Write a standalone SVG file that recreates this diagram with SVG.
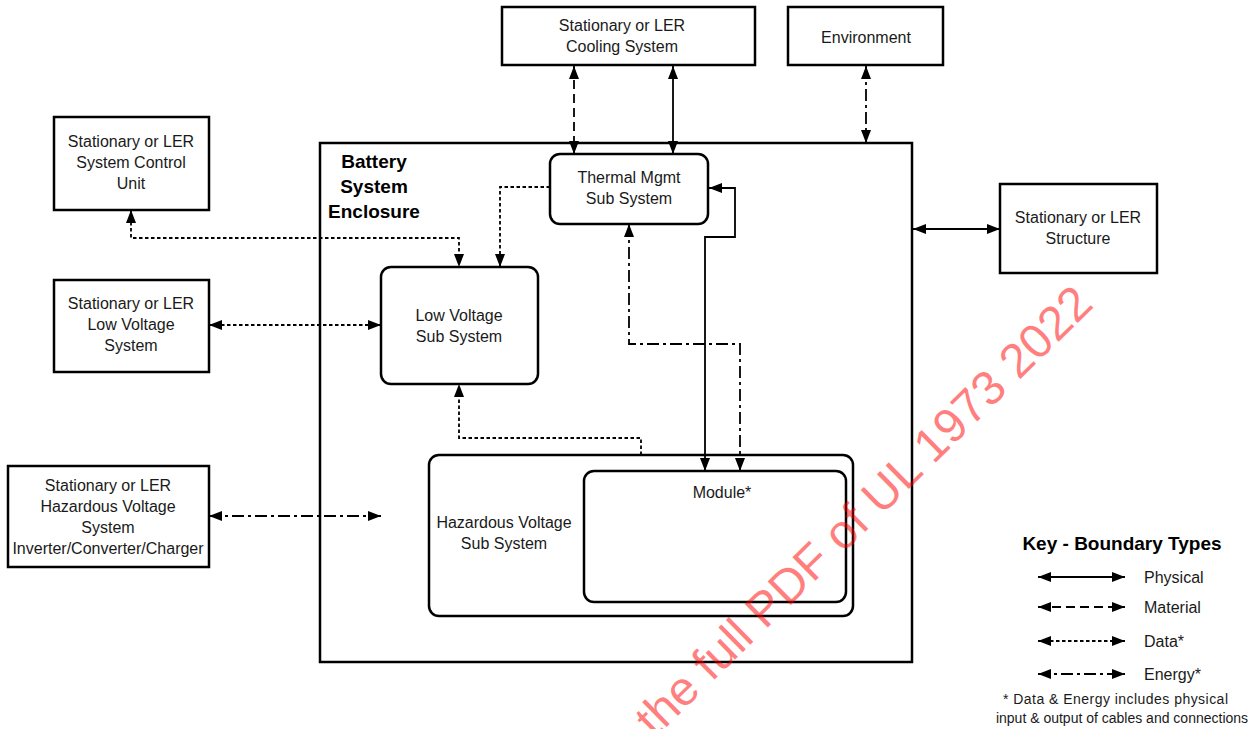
<svg xmlns="http://www.w3.org/2000/svg" width="1260" height="729" viewBox="0 0 1260 729">
<style>
.box{fill:none;stroke:#000;stroke-width:2.5}
.t{font-family:"Liberation Sans",Arial,sans-serif;font-size:16px;fill:#1a1a1a;text-anchor:middle}
.b{font-family:"Liberation Sans",Arial,sans-serif;font-size:19px;font-weight:bold;fill:#000;text-anchor:middle}
.k{font-family:"Liberation Sans",Arial,sans-serif;font-size:16px;fill:#1a1a1a}
.f{font-family:"Liberation Sans",Arial,sans-serif;font-size:14px;fill:#1a1a1a;text-anchor:middle}
.c{fill:none;stroke:#000;stroke-width:1.8}
.phys{}
.mat{stroke-dasharray:9 5}
.data{stroke-dasharray:3.5 2.5}
.en{stroke-dasharray:12 4 3 4}
.wm{font-family:"Liberation Sans",Arial,sans-serif;font-size:48px;fill:#ff0000;fill-opacity:0.5;text-anchor:end}
</style>
<defs>
<marker id="ah" markerUnits="userSpaceOnUse" markerWidth="14" markerHeight="10" refX="13" refY="5" orient="auto-start-reverse" viewBox="0 0 14 10">
<path d="M0,0 L13,5 L0,10 z" fill="#000"/>
</marker>
</defs>
<rect width="1260" height="729" fill="#fff"/>

<g id="enclosure">
<rect class="box" x="320" y="143" width="592" height="519"/>
<text class="b" x="374" y="168">Battery</text>
<text class="b" x="374" y="193">System</text>
<text class="b" x="374" y="218">Enclosure</text>
</g>
<g id="cooling">
<rect class="box" x="502" y="7" width="253" height="58"/>
<text class="t" x="622" y="31">Stationary or LER</text>
<text class="t" x="622" y="52">Cooling System</text>
</g>
<g id="environment">
<rect class="box" x="788" y="7" width="155" height="58"/>
<text class="t" x="866" y="43">Environment</text>
</g>
<g id="control-unit">
<rect class="box" x="54" y="117" width="155" height="93"/>
<text class="t" x="131" y="147">Stationary or LER</text>
<text class="t" x="131" y="168">System Control</text>
<text class="t" x="131" y="189">Unit</text>
</g>
<g id="thermal">
<rect class="box" x="550" y="154" width="158" height="70" rx="10"/>
<text class="t" x="629" y="183">Thermal Mgmt</text>
<text class="t" x="629" y="204">Sub System</text>
</g>
<g id="structure">
<rect class="box" x="1000" y="184" width="157" height="89"/>
<text class="t" x="1078" y="223">Stationary or LER</text>
<text class="t" x="1078" y="244">Structure</text>
</g>
<g id="lv-system">
<rect class="box" x="54" y="280" width="155" height="92"/>
<text class="t" x="131" y="309">Stationary or LER</text>
<text class="t" x="131" y="330">Low Voltage</text>
<text class="t" x="131" y="351">System</text>
</g>
<g id="lv-sub">
<rect class="box" x="381" y="267" width="157" height="117" rx="10"/>
<text class="t" x="459" y="321">Low Voltage</text>
<text class="t" x="459" y="342">Sub System</text>
</g>
<g id="hv-system">
<rect class="box" x="8" y="466" width="201" height="101"/>
<text class="t" x="108" y="491">Stationary or LER</text>
<text class="t" x="108" y="512">Hazardous Voltage</text>
<text class="t" x="108" y="533">System</text>
<text class="t" x="108" y="554">Inverter/Converter/Charger</text>
</g>
<g id="hv-sub">
<rect class="box" x="429" y="455" width="424" height="161" rx="10"/>
<text class="t" x="504" y="528">Hazardous Voltage</text>
<text class="t" x="504" y="549">Sub System</text>
</g>
<g id="module">
<rect class="box" x="584" y="471" width="262" height="131" rx="10"/>
<text class="t" x="722" y="498">Module*</text>
</g>

<g id="connectors">
<path class="c mat" d="M574,66 V154" marker-start="url(#ah)" marker-end="url(#ah)"/>
<path class="c phys" d="M673,66 V154" marker-start="url(#ah)" marker-end="url(#ah)"/>
<path class="c en" d="M866,66 V143" marker-start="url(#ah)" marker-end="url(#ah)"/>
<path class="c phys" d="M913,229 H1000" marker-start="url(#ah)" marker-end="url(#ah)"/>
<path class="c data" d="M550,187 H500 V267" marker-end="url(#ah)"/>
<path class="c data" d="M131,210 V238 H459 V267" marker-start="url(#ah)" marker-end="url(#ah)"/>
<path class="c data" d="M209,325 H381" marker-start="url(#ah)" marker-end="url(#ah)"/>
<path class="c en" d="M209,516 H381" marker-start="url(#ah)" marker-end="url(#ah)"/>
<path class="c data" d="M641,455 V438 H459 V384" marker-end="url(#ah)"/>
<path class="c phys" d="M709,188 H735 V237 H705 V471" marker-start="url(#ah)" marker-end="url(#ah)"/>
<path class="c en" d="M629,224 V344 H740 V471" marker-start="url(#ah)" marker-end="url(#ah)"/>
</g>

<g id="key">
<text class="b" x="1122" y="550">Key - Boundary Types</text>
<path class="c phys" d="M1038,577 H1125" marker-start="url(#ah)" marker-end="url(#ah)"/>
<path class="c mat" d="M1038,607 H1125" marker-start="url(#ah)" marker-end="url(#ah)"/>
<path class="c data" d="M1038,641 H1125" marker-start="url(#ah)" marker-end="url(#ah)"/>
<path class="c en" d="M1038,674 H1125" marker-start="url(#ah)" marker-end="url(#ah)"/>
<text class="k" x="1144" y="583">Physical</text>
<text class="k" x="1144" y="613">Material</text>
<text class="k" x="1144" y="647">Data*</text>
<text class="k" x="1144" y="680">Energy*</text>
<text class="f" x="1115.5" y="704" textLength="225" lengthAdjust="spacing">* Data &amp; Energy includes physical</text>
<text class="f" x="1122" y="723">input &amp; output of cables and connections</text>
</g>

<text class="wm" transform="translate(1095,306) rotate(-44.5)">the full PDF of UL 1973 2022</text>
</svg>
